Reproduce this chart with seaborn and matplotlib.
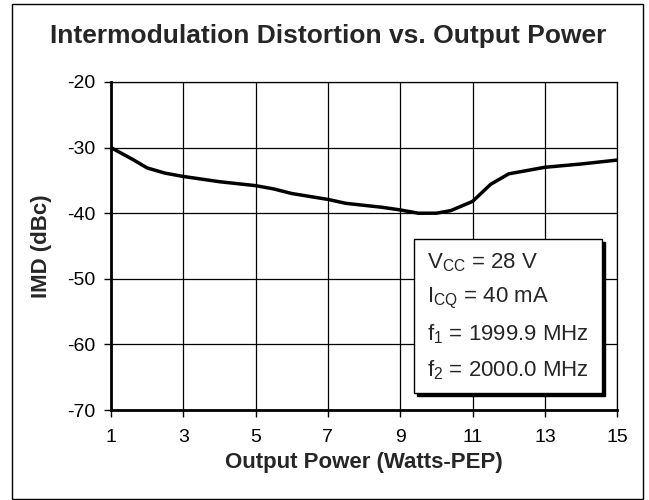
import matplotlib.pyplot as plt
import matplotlib.patches as mpatches
import pandas as pd
import seaborn as sns

# data
power = [1, 1.6, 2, 2.5, 3, 4, 5, 5.5, 6, 7, 7.5, 8.5, 9, 9.5, 10, 10.4, 11, 11.5, 12, 13, 14, 15]
imd = [-30, -31.8, -33.1, -33.9, -34.4, -35.2, -35.8, -36.3, -37.0, -37.9, -38.5, -39.1,
       -39.5, -40.0, -40.0, -39.6, -38.2, -35.6, -34.0, -33.0, -32.5, -31.9]
x_ticks = [1, 3, 5, 7, 9, 11, 13, 15]
y_ticks = [-70, -60, -50, -40, -30, -20]
cond_lines = [r"V$_{CC}$ = 28 V", r"I$_{CQ}$ = 40 mA",
              r"f$_1$ = 1999.9 MHz", r"f$_2$ = 2000.0 MHz"]

sns.set_style("white")
plt.rcParams['font.family'] = ['Liberation Sans', 'DejaVu Sans']
plt.rcParams['mathtext.default'] = 'regular'
plt.rcParams['axes.unicode_minus'] = False

df = pd.DataFrame({"power": power, "imd": imd})

fig = plt.figure(figsize=(6.49, 5.0), dpi=100)
ax = fig.add_axes([0.171, 0.18, 0.780, 0.656])

sns.lineplot(data=df, x="power", y="imd", color="black", lw=2.5, ax=ax)

ax.set_xlim(1, 15)
ax.set_ylim(-70, -20)
ax.set_xticks(x_ticks)
ax.set_yticks(y_ticks)
ax.grid(True, color="black", lw=0.9)
ax.tick_params(direction="out", length=5, width=1, colors="black", labelsize=14,
               left=True, bottom=True)
ax.tick_params(axis="y", pad=6)
ax.tick_params(axis="x", pad=9)
for side in ["top", "right"]:
    ax.spines[side].set_linewidth(0.9)
for side in ["left", "bottom"]:
    ax.spines[side].set_linewidth(2)
for s in ax.spines.values():
    s.set_color("black")

ax.set_xlabel("Output Power (Watts-PEP)", fontsize=16, fontweight="bold", labelpad=4)
ax.set_ylabel("IMD (dBc)", fontsize=16, fontweight="bold", labelpad=11)
fig.text(0.505, 0.929, "Intermodulation Distortion vs. Output Power", fontsize=19,
         fontweight="bold", ha="center", va="center")

# condition box with shadow
bx, by, bw, bh = 0.599, 0.052, 0.371, 0.47
ax.add_patch(mpatches.Rectangle((bx + 0.006, by - 0.009), bw, bh, transform=ax.transAxes,
                                facecolor="black", edgecolor="black", zorder=5))
ax.add_patch(mpatches.Rectangle((bx, by), bw, bh, transform=ax.transAxes,
                                facecolor="white", edgecolor="black", lw=1, zorder=6))
for i, t in enumerate(cond_lines):
    ax.text(bx + 0.026, 0.448 - i * 0.109, t, transform=ax.transAxes,
            fontsize=16, va="center", ha="left", zorder=7)

# frame around the whole figure
fig.patches.append(mpatches.Rectangle((0.0185, 0.002), 0.973, 0.99, transform=fig.transFigure,
                                      fill=False, edgecolor="black", lw=1))

fig.savefig("out.png", dpi=100)
